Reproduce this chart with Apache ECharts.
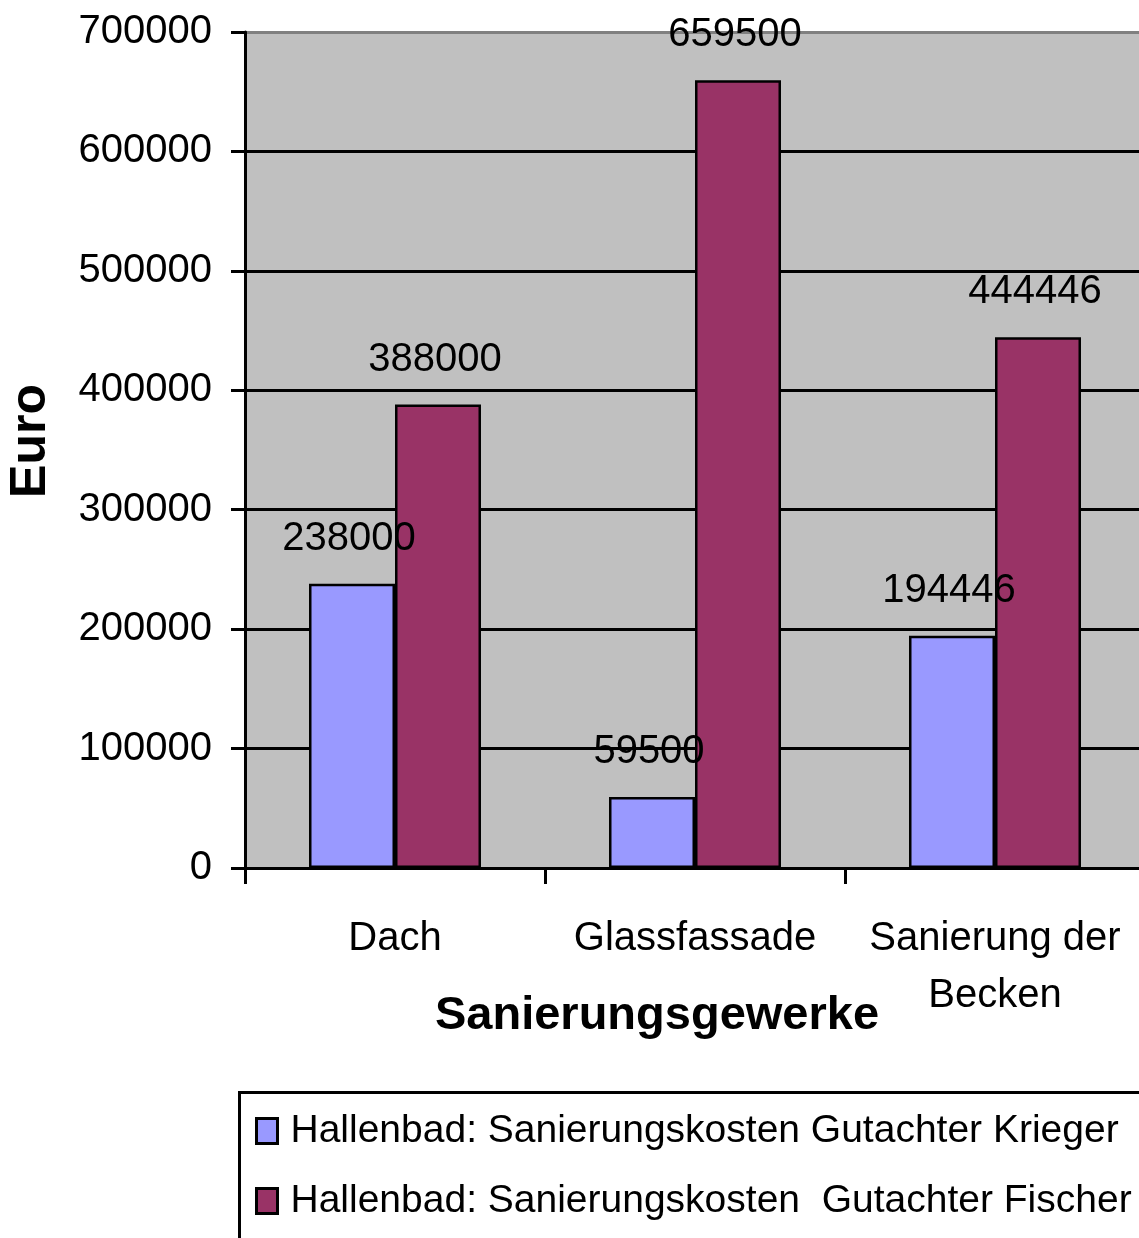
<!DOCTYPE html>
<html><head><meta charset="utf-8">
<script src="https://cdn.jsdelivr.net/npm/echarts@6/dist/echarts.min.js"></script>
<style>html,body{margin:0;padding:0;background:#fff;overflow:hidden}#c{width:1145px;height:1238px}</style>
</head><body><div id="c"></div>
<script>
const categories = ['Dach', 'Glassfassade', 'Sanierung der\nBecken'];
const kriegerValues = [238000, 59500, 194446];
const fischerValues = [388000, 659500, 444446];
const seriesNames = ['Hallenbad: Sanierungskosten Gutachter Krieger', 'Hallenbad: Sanierungskosten  Gutachter Fischer'];
const yAxisTitle = 'Euro';
const xAxisTitle = 'Sanierungsgewerke';

const FONT = '"Liberation Sans", Arial, sans-serif';
const chart = echarts.init(document.getElementById('c'), null, {renderer: 'canvas'});
const labelCfg = {show: true, position: 'top', distance: 25, offset: [-3, 0], fontSize: 40, color: '#000', fontFamily: FONT};
chart.setOption({
  animation: false,
  backgroundColor: '#fff',
  grid: {left: 245, top: 32, width: 900, height: 836, show: true, backgroundColor: '#c0c0c0', borderWidth: 0, containLabel: false},
  xAxis: {
    type: 'category', data: categories,
    axisLine: {lineStyle: {color: '#000', width: 3}},
    axisTick: {show: true, length: 16, lineStyle: {color: '#000', width: 3}},
    axisLabel: {margin: 42, fontSize: 40, color: '#000', fontFamily: FONT, lineHeight: 57, interval: 0}
  },
  yAxis: {
    type: 'value', min: 0, max: 700000, interval: 100000,
    axisLine: {show: true, lineStyle: {color: '#000', width: 3}},
    axisTick: {show: true, length: 14, lineStyle: {color: '#000', width: 3}},
    axisLabel: {margin: 33, fontSize: 40, color: '#000', fontFamily: FONT, formatter: v => String(v)},
    splitLine: {show: true, lineStyle: {color: ['#000','#000','#000','#000','#000','#000','#000','#808080'], width: 3}}
  },
  legend: {
    orient: 'vertical', left: 250, top: 1106,
    itemWidth: 21, itemHeight: 25, itemGap: 30, icon: 'rect',
    itemStyle: {borderColor: '#000', borderWidth: 3},
    textStyle: {fontSize: 39, color: '#000', fontFamily: FONT, lineHeight: 40, padding: [0, 0, 0, 8]},
    data: seriesNames
  },
  graphic: [
    {type: 'rect', left: 237, top: 1090, shape: {width: 1000, height: 300}, style: {fill: 'none', stroke: '#000', lineWidth: 3}},
    {type: 'text', x: 657, y: 1016, style: {text: xAxisTitle, font: 'bold 47px ' + FONT, fill: '#000', textAlign: 'center', textVerticalAlign: 'middle'}},
    {type: 'text', x: 31, y: 441, rotation: Math.PI / 2, style: {text: yAxisTitle, font: 'bold 50px ' + FONT, fill: '#000', textAlign: 'center', textVerticalAlign: 'middle'}}
  ],
  series: [
    {name: seriesNames[0], type: 'bar', data: kriegerValues, barWidth: 86, barGap: '0%',
     itemStyle: {color: '#9999ff', borderColor: '#000', borderWidth: 2.5}, label: labelCfg},
    {name: seriesNames[1], type: 'bar', data: fischerValues, barWidth: 86, barGap: '0%',
     itemStyle: {color: '#993366', borderColor: '#000', borderWidth: 2.5}, label: labelCfg}
  ]
});
</script></body></html>
